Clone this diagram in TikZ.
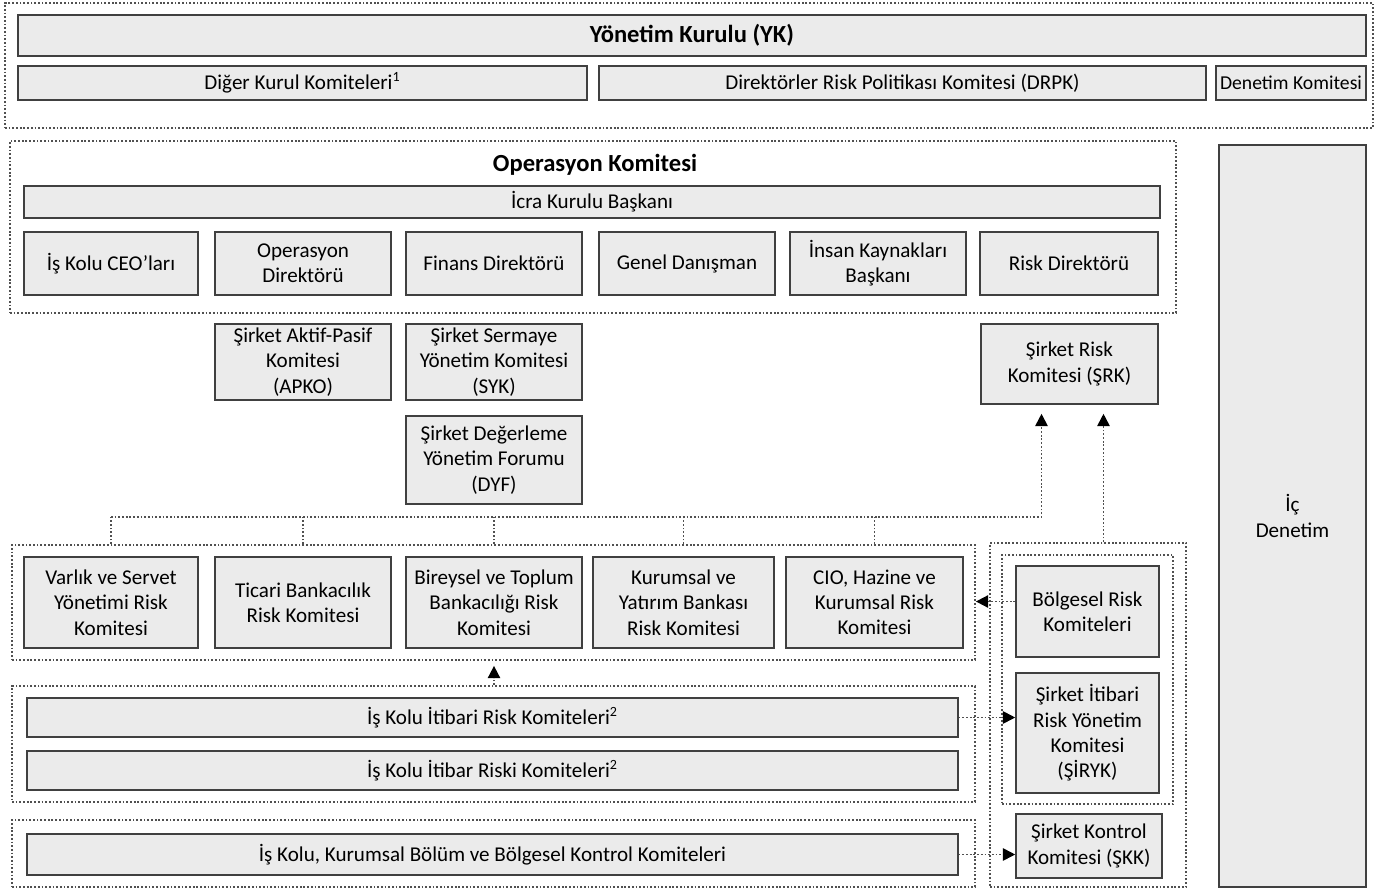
\documentclass[tikz,border=0pt]{standalone}
\usepackage{fontspec}
\setmainfont{Carlito}
\usetikzlibrary{fit,arrows.meta,positioning}
\definecolor{cajagris}{RGB}{235,235,235}
\definecolor{borde}{RGB}{64,64,64}
\definecolor{punteado}{RGB}{80,80,80}
\begin{document}
\begin{tikzpicture}[x=0.02cm,y=-0.02cm,
    caja/.style={draw=borde,fill=cajagris,line width=0.9pt,inner sep=0pt,align=center,font=\fontsize{12}{14.4}\selectfont},
    titulo/.style={font=\fontsize{14}{16}\selectfont\bfseries},
    grupo/.style={draw=punteado,line width=1pt,dash pattern=on 1pt off 1.1pt,inner sep=0pt},
    enlace/.style={draw=punteado,line width=1pt,dash pattern=on 1pt off 1.1pt},
    flecha/.style={enlace,-{Triangle[length=7pt,width=7pt,color=black]}}]
            \useasboundingbox (0,0) rectangle (1377,892);

            % Yonetim Kurulu y sus comites
            \node[grupo,fit={(5,3) (1373,128)}] (kurul) {};
            \node[caja,titulo,minimum width=26.96cm,minimum height=0.82cm] (yk) at (692,35.5) {Yönetim Kurulu (YK)};
            \node[caja,minimum width=11.38cm,minimum height=0.68cm] (diger) at (302.5,83) {Diğer Kurul Komiteleri\textsuperscript{1}};
            \node[caja,minimum width=12.14cm,minimum height=0.68cm] (drpk) at (902.5,83) {Direktörler Risk Politikası Komitesi (DRPK)};
            \node[caja,font=\fontsize{11.2}{13}\selectfont,minimum width=3cm,minimum height=0.68cm] (denk) at (1291,83) {Denetim Komitesi};

            % Operasyon Komitesi
            \node[grupo,fit={(10,141) (1176,313)}] (opk) {};
            \node[titulo] (opkbaslik) at (595,165) {Operasyon Komitesi};
            \node[caja,minimum width=22.72cm,minimum height=0.64cm] (icra) at (592,202) {İcra Kurulu Başkanı};
            \node[caja,minimum width=3.48cm,minimum height=1.26cm] (ceo) at (111,263.5) {İş Kolu CEO’ları};
            \node[caja,minimum width=3.52cm,minimum height=1.26cm] (opdir) at (303,263.5) {Operasyon\\Direktörü};
            \node[caja,minimum width=3.52cm,minimum height=1.26cm] (findir) at (494,263.5) {Finans Direktörü};
            \node[caja,minimum width=3.52cm,minimum height=1.26cm] (genel) at (687,263.5) {Genel Danışman};
            \node[caja,minimum width=3.52cm,minimum height=1.26cm] (ik) at (878,263.5) {İnsan Kaynakları\\Başkanı};
            \node[caja,minimum width=3.56cm,minimum height=1.26cm] (riskdir) at (1069,263.5) {Risk Direktörü};

            % Ic Denetim
            \node[caja,minimum width=2.94cm,minimum height=14.84cm] (icden) at (1292.5,516) {İç\\Denetim};

            % Sirket komiteleri
            \node[caja,minimum width=3.52cm,minimum height=1.52cm] (apko) at (303,362) {Şirket Aktif-Pasif\\Komitesi\\(APKO)};
            \node[caja,minimum width=3.52cm,minimum height=1.52cm] (syk) at (494,362) {Şirket Sermaye\\Yönetim Komitesi\\(SYK)};
            \node[caja,minimum width=3.52cm,minimum height=1.76cm] (dyf) at (494,460) {Şirket Değerleme\\Yönetim Forumu\\(DYF)};
            \node[caja,minimum width=3.54cm,minimum height=1.6cm] (srk) at (1069.5,364) {Şirket Risk\\Komitesi (ŞRK)};

            % Is kolu risk komiteleri
            \node[grupo,fit={(12,545) (975,660)}] (riskgrp) {};
            \node[caja,minimum width=3.48cm,minimum height=1.82cm] (var) at (111,602.5) {Varlık ve Servet\\Yönetimi Risk\\Komitesi};
            \node[caja,minimum width=3.52cm,minimum height=1.82cm] (tic) at (303,602.5) {Ticari Bankacılık\\Risk Komitesi};
            \node[caja,minimum width=3.52cm,minimum height=1.82cm] (bir) at (494,602.5) {Bireysel ve Toplum\\Bankacılığı Risk\\Komitesi};
            \node[caja,minimum width=3.62cm,minimum height=1.82cm] (kur) at (683.5,602.5) {Kurumsal ve\\Yatırım Bankası\\Risk Komitesi};
            \node[caja,minimum width=3.54cm,minimum height=1.82cm] (cio) at (874.5,602.5) {CIO, Hazine ve\\Kurumsal Risk\\Komitesi};

            % Itibar ve kontrol komiteleri
            \node[grupo,fit={(12,686) (975,802)}] (itgrp) {};
            \node[caja,minimum width=18.62cm,minimum height=0.78cm] (itibari) at (492.5,717.5) {İş Kolu İtibari Risk Komiteleri\textsuperscript{2}};
            \node[caja,minimum width=18.62cm,minimum height=0.78cm] (itibar) at (492.5,770.5) {İş Kolu İtibar Riski Komiteleri\textsuperscript{2}};
            \node[grupo,fit={(12,820) (975,887)}] (kontgrp) {};
            \node[caja,minimum width=18.62cm,minimum height=0.82cm] (kontrol) at (492.5,854.5) {İş Kolu, Kurumsal Bölüm ve Bölgesel Kontrol Komiteleri};

            % Sag taraf
            \node[grupo,fit={(990,543) (1186,887)}] (saggrp) {};
            \node[grupo,fit={(1002,555) (1173,804)}] (bolggrp) {};
            \node[caja,minimum width=2.86cm,minimum height=1.82cm] (bolg) at (1087.5,611.5) {Bölgesel Risk\\Komiteleri};
            \node[caja,minimum width=2.86cm,minimum height=2.4cm] (siryk) at (1087.5,733) {Şirket İtibari\\Risk Yönetim\\Komitesi\\(ŞİRYK)};
            \node[caja,minimum width=2.92cm,minimum height=1.28cm] (skk) at (1089,846) {Şirket Kontrol\\Komitesi (ŞKK)};

            % Baglantilar
            \coordinate (bus) at (0,517);
            \coordinate (srkL) at ([xshift=-0.56cm]srk.south);
            \coordinate (srkR) at ([xshift=0.68cm]srk.south);
            \foreach \n in {var,tic,bir,kur,cio}
                \draw[enlace] (\n |- riskgrp.north) -- (\n |- bus);
            \draw[flecha,shorten >=0.18cm] (var |- bus) -| (srkL);
            \draw[flecha,shorten >=0.18cm] (srkR |- saggrp.north) -- (srkR);
            \draw[flecha,shorten >=0.1cm] (bir |- itgrp.north) -- (bir |- riskgrp.south);
            \draw[flecha] ([yshift=0.2cm]bolg.west) -- ([yshift=0.2cm]bolg.west -| riskgrp.east);
            \draw[flecha] (itibari.east) -- (itibari.east -| siryk.west);
            \draw[flecha] (kontrol.east) -- (kontrol.east -| skk.west);
\end{tikzpicture}
\end{document}
